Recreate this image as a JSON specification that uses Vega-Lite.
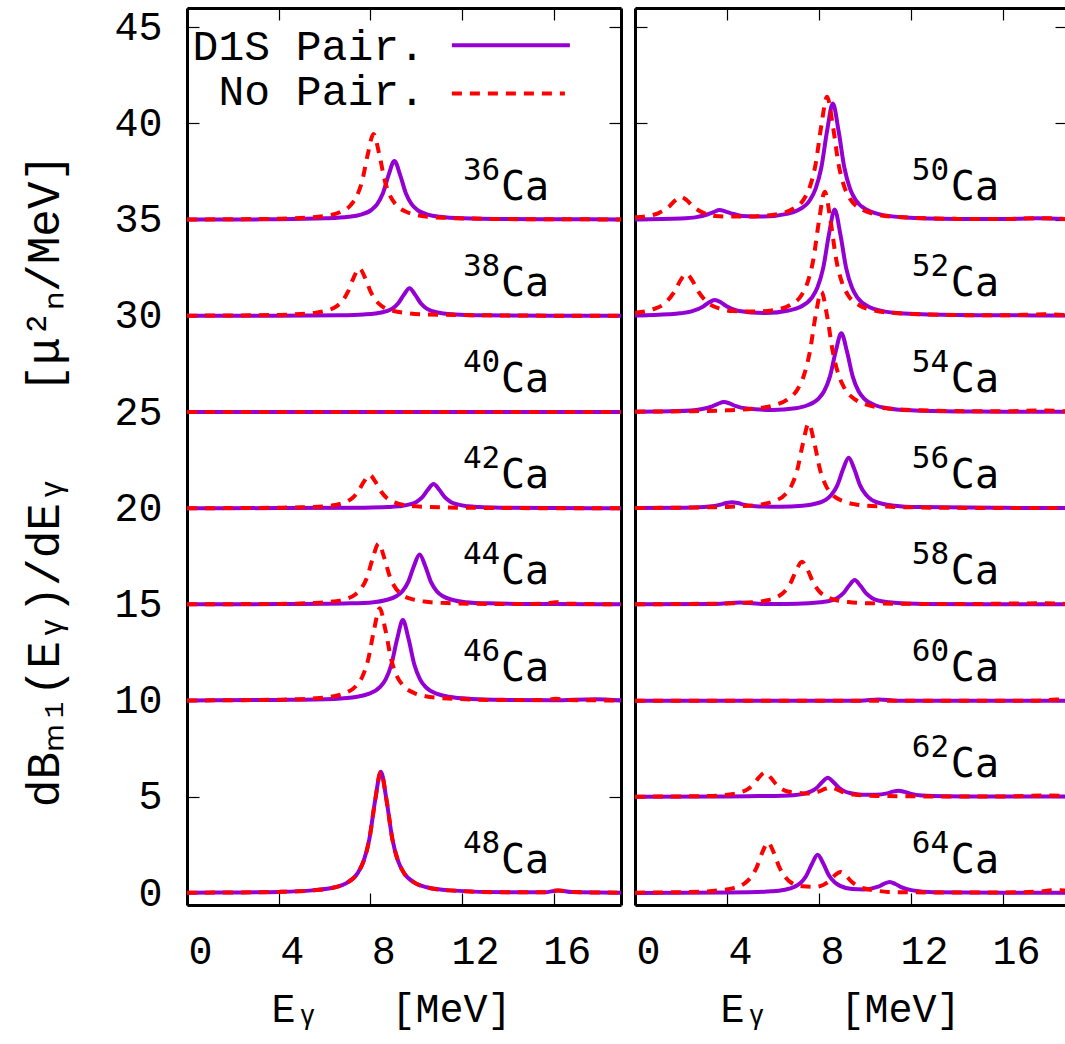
{
"$schema":"https://vega.github.io/schema/vega-lite/v6.json",
"padding":{"left":21,"top":7,"right":0,"bottom":6},
"background":"white",
"datasets":{
"labels":[
{"panel":"L","iso":"36","base":35},{"panel":"L","iso":"38","base":30},{"panel":"L","iso":"40","base":25},{"panel":"L","iso":"42","base":20},{"panel":"L","iso":"44","base":15},{"panel":"L","iso":"46","base":10},{"panel":"L","iso":"48","base":0},
{"panel":"R","iso":"50","base":35},{"panel":"R","iso":"52","base":30},{"panel":"R","iso":"54","base":25},{"panel":"R","iso":"56","base":20},{"panel":"R","iso":"58","base":15},{"panel":"R","iso":"60","base":10},{"panel":"R","iso":"62","base":5},{"panel":"R","iso":"64","base":0}
],
"legend":[
{"model":"D1S Pair."},{"model":"No Pair."}
],
"curves":[
{"panel":"L","nuc":"36","model":"NoPair","e":0,"y":35.01},{"panel":"L","nuc":"36","model":"NoPair","e":2,"y":35.02},{"panel":"L","nuc":"36","model":"NoPair","e":4,"y":35.05},{"panel":"L","nuc":"36","model":"NoPair","e":5.14,"y":35.1},{"panel":"L","nuc":"36","model":"NoPair","e":6.14,"y":35.21},{"panel":"L","nuc":"36","model":"NoPair","e":6.64,"y":35.37},{"panel":"L","nuc":"36","model":"NoPair","e":7.14,"y":35.75},{"panel":"L","nuc":"36","model":"NoPair","e":7.39,"y":36.18},{"panel":"L","nuc":"36","model":"NoPair","e":7.64,"y":36.99},{"panel":"L","nuc":"36","model":"NoPair","e":7.89,"y":38.4},{"panel":"L","nuc":"36","model":"NoPair","e":8.14,"y":39.45},{"panel":"L","nuc":"36","model":"NoPair","e":8.39,"y":38.4},{"panel":"L","nuc":"36","model":"NoPair","e":8.64,"y":36.99},{"panel":"L","nuc":"36","model":"NoPair","e":8.89,"y":36.18},{"panel":"L","nuc":"36","model":"NoPair","e":9.14,"y":35.75},{"panel":"L","nuc":"36","model":"NoPair","e":9.64,"y":35.37},{"panel":"L","nuc":"36","model":"NoPair","e":10.14,"y":35.21},{"panel":"L","nuc":"36","model":"NoPair","e":11.14,"y":35.1},{"panel":"L","nuc":"36","model":"NoPair","e":14,"y":35.03},{"panel":"L","nuc":"36","model":"NoPair","e":16,"y":35.02},{"panel":"L","nuc":"36","model":"NoPair","e":19,"y":35.01},
{"panel":"L","nuc":"36","model":"D1S","e":0,"y":35.01},{"panel":"L","nuc":"36","model":"D1S","e":2,"y":35.01},{"panel":"L","nuc":"36","model":"D1S","e":4,"y":35.02},{"panel":"L","nuc":"36","model":"D1S","e":6.05,"y":35.07},{"panel":"L","nuc":"36","model":"D1S","e":7.05,"y":35.15},{"panel":"L","nuc":"36","model":"D1S","e":7.55,"y":35.25},{"panel":"L","nuc":"36","model":"D1S","e":8.05,"y":35.51},{"panel":"L","nuc":"36","model":"D1S","e":8.3,"y":35.81},{"panel":"L","nuc":"36","model":"D1S","e":8.55,"y":36.37},{"panel":"L","nuc":"36","model":"D1S","e":8.8,"y":37.33},{"panel":"L","nuc":"36","model":"D1S","e":9.05,"y":38.05},{"panel":"L","nuc":"36","model":"D1S","e":9.3,"y":37.33},{"panel":"L","nuc":"36","model":"D1S","e":9.55,"y":36.37},{"panel":"L","nuc":"36","model":"D1S","e":9.8,"y":35.81},{"panel":"L","nuc":"36","model":"D1S","e":10.05,"y":35.51},{"panel":"L","nuc":"36","model":"D1S","e":10.55,"y":35.25},{"panel":"L","nuc":"36","model":"D1S","e":11.05,"y":35.15},{"panel":"L","nuc":"36","model":"D1S","e":12.05,"y":35.07},{"panel":"L","nuc":"36","model":"D1S","e":14,"y":35.03},{"panel":"L","nuc":"36","model":"D1S","e":16,"y":35.02},{"panel":"L","nuc":"36","model":"D1S","e":19,"y":35.01},
{"panel":"L","nuc":"38","model":"NoPair","e":0,"y":30.01},{"panel":"L","nuc":"38","model":"NoPair","e":2,"y":30.02},{"panel":"L","nuc":"38","model":"NoPair","e":4,"y":30.05},{"panel":"L","nuc":"38","model":"NoPair","e":4.52,"y":30.07},{"panel":"L","nuc":"38","model":"NoPair","e":5.52,"y":30.15},{"panel":"L","nuc":"38","model":"NoPair","e":6.02,"y":30.25},{"panel":"L","nuc":"38","model":"NoPair","e":6.52,"y":30.49},{"panel":"L","nuc":"38","model":"NoPair","e":6.77,"y":30.76},{"panel":"L","nuc":"38","model":"NoPair","e":7.02,"y":31.24},{"panel":"L","nuc":"38","model":"NoPair","e":7.27,"y":31.98},{"panel":"L","nuc":"38","model":"NoPair","e":7.52,"y":32.47},{"panel":"L","nuc":"38","model":"NoPair","e":7.77,"y":31.98},{"panel":"L","nuc":"38","model":"NoPair","e":8.02,"y":31.24},{"panel":"L","nuc":"38","model":"NoPair","e":8.27,"y":30.76},{"panel":"L","nuc":"38","model":"NoPair","e":8.52,"y":30.49},{"panel":"L","nuc":"38","model":"NoPair","e":9.02,"y":30.25},{"panel":"L","nuc":"38","model":"NoPair","e":9.52,"y":30.15},{"panel":"L","nuc":"38","model":"NoPair","e":10.52,"y":30.07},{"panel":"L","nuc":"38","model":"NoPair","e":14,"y":30.02},{"panel":"L","nuc":"38","model":"NoPair","e":16,"y":30.01},{"panel":"L","nuc":"38","model":"NoPair","e":19,"y":30.01},
{"panel":"L","nuc":"38","model":"D1S","e":0,"y":30.0},{"panel":"L","nuc":"38","model":"D1S","e":4,"y":30.01},{"panel":"L","nuc":"38","model":"D1S","e":6.71,"y":30.03},{"panel":"L","nuc":"38","model":"D1S","e":7.71,"y":30.07},{"panel":"L","nuc":"38","model":"D1S","e":8.21,"y":30.12},{"panel":"L","nuc":"38","model":"D1S","e":8.71,"y":30.24},{"panel":"L","nuc":"38","model":"D1S","e":8.96,"y":30.38},{"panel":"L","nuc":"38","model":"D1S","e":9.21,"y":30.64},{"panel":"L","nuc":"38","model":"D1S","e":9.46,"y":31.09},{"panel":"L","nuc":"38","model":"D1S","e":9.71,"y":31.43},{"panel":"L","nuc":"38","model":"D1S","e":9.96,"y":31.09},{"panel":"L","nuc":"38","model":"D1S","e":10.21,"y":30.64},{"panel":"L","nuc":"38","model":"D1S","e":10.46,"y":30.38},{"panel":"L","nuc":"38","model":"D1S","e":10.71,"y":30.24},{"panel":"L","nuc":"38","model":"D1S","e":11.21,"y":30.12},{"panel":"L","nuc":"38","model":"D1S","e":11.71,"y":30.07},{"panel":"L","nuc":"38","model":"D1S","e":12.71,"y":30.03},{"panel":"L","nuc":"38","model":"D1S","e":16,"y":30.01},{"panel":"L","nuc":"38","model":"D1S","e":19,"y":30.0},
{"panel":"L","nuc":"40","model":"NoPair","e":0,"y":25},{"panel":"L","nuc":"40","model":"NoPair","e":10,"y":25},{"panel":"L","nuc":"40","model":"NoPair","e":19,"y":25},
{"panel":"L","nuc":"40","model":"D1S","e":0,"y":25},{"panel":"L","nuc":"40","model":"D1S","e":10,"y":25},{"panel":"L","nuc":"40","model":"D1S","e":19,"y":25},
{"panel":"L","nuc":"42","model":"NoPair","e":0,"y":20.0},{"panel":"L","nuc":"42","model":"NoPair","e":4,"y":20.03},{"panel":"L","nuc":"42","model":"NoPair","e":4.97,"y":20.05},{"panel":"L","nuc":"42","model":"NoPair","e":5.97,"y":20.1},{"panel":"L","nuc":"42","model":"NoPair","e":6.47,"y":20.17},{"panel":"L","nuc":"42","model":"NoPair","e":6.97,"y":20.35},{"panel":"L","nuc":"42","model":"NoPair","e":7.22,"y":20.53},{"panel":"L","nuc":"42","model":"NoPair","e":7.47,"y":20.87},{"panel":"L","nuc":"42","model":"NoPair","e":7.72,"y":21.38},{"panel":"L","nuc":"42","model":"NoPair","e":7.97,"y":21.73},{"panel":"L","nuc":"42","model":"NoPair","e":8.22,"y":21.38},{"panel":"L","nuc":"42","model":"NoPair","e":8.47,"y":20.87},{"panel":"L","nuc":"42","model":"NoPair","e":8.72,"y":20.53},{"panel":"L","nuc":"42","model":"NoPair","e":8.97,"y":20.35},{"panel":"L","nuc":"42","model":"NoPair","e":9.47,"y":20.17},{"panel":"L","nuc":"42","model":"NoPair","e":9.97,"y":20.1},{"panel":"L","nuc":"42","model":"NoPair","e":10.97,"y":20.05},{"panel":"L","nuc":"42","model":"NoPair","e":14,"y":20.01},{"panel":"L","nuc":"42","model":"NoPair","e":19,"y":20.0},
{"panel":"L","nuc":"42","model":"D1S","e":0,"y":20.0},{"panel":"L","nuc":"42","model":"D1S","e":4,"y":20.01},{"panel":"L","nuc":"42","model":"D1S","e":7.76,"y":20.03},{"panel":"L","nuc":"42","model":"D1S","e":8.76,"y":20.06},{"panel":"L","nuc":"42","model":"D1S","e":9.26,"y":20.1},{"panel":"L","nuc":"42","model":"D1S","e":9.76,"y":20.21},{"panel":"L","nuc":"42","model":"D1S","e":10.01,"y":20.33},{"panel":"L","nuc":"42","model":"D1S","e":10.26,"y":20.56},{"panel":"L","nuc":"42","model":"D1S","e":10.51,"y":20.96},{"panel":"L","nuc":"42","model":"D1S","e":10.76,"y":21.26},{"panel":"L","nuc":"42","model":"D1S","e":11.01,"y":20.96},{"panel":"L","nuc":"42","model":"D1S","e":11.26,"y":20.56},{"panel":"L","nuc":"42","model":"D1S","e":11.51,"y":20.33},{"panel":"L","nuc":"42","model":"D1S","e":11.76,"y":20.21},{"panel":"L","nuc":"42","model":"D1S","e":12.26,"y":20.1},{"panel":"L","nuc":"42","model":"D1S","e":12.76,"y":20.06},{"panel":"L","nuc":"42","model":"D1S","e":13.76,"y":20.03},{"panel":"L","nuc":"42","model":"D1S","e":16,"y":20.01},{"panel":"L","nuc":"42","model":"D1S","e":19,"y":20.0},
{"panel":"L","nuc":"44","model":"NoPair","e":0,"y":15.01},{"panel":"L","nuc":"44","model":"NoPair","e":4,"y":15.03},{"panel":"L","nuc":"44","model":"NoPair","e":5.36,"y":15.07},{"panel":"L","nuc":"44","model":"NoPair","e":6.36,"y":15.15},{"panel":"L","nuc":"44","model":"NoPair","e":6.86,"y":15.26},{"panel":"L","nuc":"44","model":"NoPair","e":7.36,"y":15.53},{"panel":"L","nuc":"44","model":"NoPair","e":7.61,"y":15.84},{"panel":"L","nuc":"44","model":"NoPair","e":7.86,"y":16.42},{"panel":"L","nuc":"44","model":"NoPair","e":8.11,"y":17.42},{"panel":"L","nuc":"44","model":"NoPair","e":8.36,"y":18.17},{"panel":"L","nuc":"44","model":"NoPair","e":8.61,"y":17.42},{"panel":"L","nuc":"44","model":"NoPair","e":8.86,"y":16.42},{"panel":"L","nuc":"44","model":"NoPair","e":9.11,"y":15.84},{"panel":"L","nuc":"44","model":"NoPair","e":9.36,"y":15.53},{"panel":"L","nuc":"44","model":"NoPair","e":9.86,"y":15.26},{"panel":"L","nuc":"44","model":"NoPair","e":10.36,"y":15.15},{"panel":"L","nuc":"44","model":"NoPair","e":11.36,"y":15.07},{"panel":"L","nuc":"44","model":"NoPair","e":14,"y":15.02},{"panel":"L","nuc":"44","model":"NoPair","e":15.6,"y":15.04},{"panel":"L","nuc":"44","model":"NoPair","e":16.1,"y":15.12},{"panel":"L","nuc":"44","model":"NoPair","e":16.6,"y":15.04},{"panel":"L","nuc":"44","model":"NoPair","e":19,"y":15.01},
{"panel":"L","nuc":"44","model":"D1S","e":0,"y":15.01},{"panel":"L","nuc":"44","model":"D1S","e":4,"y":15.02},{"panel":"L","nuc":"44","model":"D1S","e":7.15,"y":15.06},{"panel":"L","nuc":"44","model":"D1S","e":8.15,"y":15.12},{"panel":"L","nuc":"44","model":"D1S","e":8.65,"y":15.22},{"panel":"L","nuc":"44","model":"D1S","e":9.15,"y":15.44},{"panel":"L","nuc":"44","model":"D1S","e":9.4,"y":15.69},{"panel":"L","nuc":"44","model":"D1S","e":9.65,"y":16.16},{"panel":"L","nuc":"44","model":"D1S","e":9.9,"y":16.99},{"panel":"L","nuc":"44","model":"D1S","e":10.15,"y":17.6},{"panel":"L","nuc":"44","model":"D1S","e":10.4,"y":16.99},{"panel":"L","nuc":"44","model":"D1S","e":10.65,"y":16.16},{"panel":"L","nuc":"44","model":"D1S","e":10.9,"y":15.69},{"panel":"L","nuc":"44","model":"D1S","e":11.15,"y":15.44},{"panel":"L","nuc":"44","model":"D1S","e":11.65,"y":15.22},{"panel":"L","nuc":"44","model":"D1S","e":12.15,"y":15.12},{"panel":"L","nuc":"44","model":"D1S","e":13.15,"y":15.06},{"panel":"L","nuc":"44","model":"D1S","e":16,"y":15.02},{"panel":"L","nuc":"44","model":"D1S","e":19,"y":15.01},
{"panel":"L","nuc":"46","model":"NoPair","e":0,"y":10.01},{"panel":"L","nuc":"46","model":"NoPair","e":4,"y":10.05},{"panel":"L","nuc":"46","model":"NoPair","e":5.41,"y":10.11},{"panel":"L","nuc":"46","model":"NoPair","e":6.41,"y":10.23},{"panel":"L","nuc":"46","model":"NoPair","e":6.91,"y":10.4},{"panel":"L","nuc":"46","model":"NoPair","e":7.41,"y":10.81},{"panel":"L","nuc":"46","model":"NoPair","e":7.66,"y":11.27},{"panel":"L","nuc":"46","model":"NoPair","e":7.91,"y":12.15},{"panel":"L","nuc":"46","model":"NoPair","e":8.16,"y":13.67},{"panel":"L","nuc":"46","model":"NoPair","e":8.41,"y":14.8},{"panel":"L","nuc":"46","model":"NoPair","e":8.66,"y":13.67},{"panel":"L","nuc":"46","model":"NoPair","e":8.91,"y":12.15},{"panel":"L","nuc":"46","model":"NoPair","e":9.16,"y":11.27},{"panel":"L","nuc":"46","model":"NoPair","e":9.41,"y":10.81},{"panel":"L","nuc":"46","model":"NoPair","e":9.91,"y":10.4},{"panel":"L","nuc":"46","model":"NoPair","e":10.41,"y":10.23},{"panel":"L","nuc":"46","model":"NoPair","e":11.41,"y":10.11},{"panel":"L","nuc":"46","model":"NoPair","e":14,"y":10.03},{"panel":"L","nuc":"46","model":"NoPair","e":15.6,"y":10.03},{"panel":"L","nuc":"46","model":"NoPair","e":16.1,"y":10.1},{"panel":"L","nuc":"46","model":"NoPair","e":16.6,"y":10.03},{"panel":"L","nuc":"46","model":"NoPair","e":19,"y":10.01},
{"panel":"L","nuc":"46","model":"D1S","e":0,"y":10.01},{"panel":"L","nuc":"46","model":"D1S","e":4,"y":10.04},{"panel":"L","nuc":"46","model":"D1S","e":6.42,"y":10.09},{"panel":"L","nuc":"46","model":"D1S","e":7.42,"y":10.2},{"panel":"L","nuc":"46","model":"D1S","e":7.92,"y":10.35},{"panel":"L","nuc":"46","model":"D1S","e":8.42,"y":10.7},{"panel":"L","nuc":"46","model":"D1S","e":8.67,"y":11.11},{"panel":"L","nuc":"46","model":"D1S","e":8.92,"y":11.88},{"panel":"L","nuc":"46","model":"D1S","e":9.17,"y":13.2},{"panel":"L","nuc":"46","model":"D1S","e":9.42,"y":14.19},{"panel":"L","nuc":"46","model":"D1S","e":9.67,"y":13.2},{"panel":"L","nuc":"46","model":"D1S","e":9.92,"y":11.88},{"panel":"L","nuc":"46","model":"D1S","e":10.17,"y":11.11},{"panel":"L","nuc":"46","model":"D1S","e":10.42,"y":10.7},{"panel":"L","nuc":"46","model":"D1S","e":10.92,"y":10.35},{"panel":"L","nuc":"46","model":"D1S","e":11.42,"y":10.2},{"panel":"L","nuc":"46","model":"D1S","e":12.42,"y":10.09},{"panel":"L","nuc":"46","model":"D1S","e":14,"y":10.04},{"panel":"L","nuc":"46","model":"D1S","e":16,"y":10.02},{"panel":"L","nuc":"46","model":"D1S","e":17.8,"y":10.08},{"panel":"L","nuc":"46","model":"D1S","e":19,"y":10.01},
{"panel":"L","nuc":"48","model":"NoPair","e":0,"y":0.02},{"panel":"L","nuc":"48","model":"NoPair","e":2,"y":0.03},{"panel":"L","nuc":"48","model":"NoPair","e":4,"y":0.06},{"panel":"L","nuc":"48","model":"NoPair","e":5.46,"y":0.14},{"panel":"L","nuc":"48","model":"NoPair","e":6.46,"y":0.3},{"panel":"L","nuc":"48","model":"NoPair","e":6.96,"y":0.52},{"panel":"L","nuc":"48","model":"NoPair","e":7.46,"y":1.06},{"panel":"L","nuc":"48","model":"NoPair","e":7.71,"y":1.67},{"panel":"L","nuc":"48","model":"NoPair","e":7.96,"y":2.82},{"panel":"L","nuc":"48","model":"NoPair","e":8.21,"y":4.81},{"panel":"L","nuc":"48","model":"NoPair","e":8.46,"y":6.3},{"panel":"L","nuc":"48","model":"NoPair","e":8.71,"y":4.81},{"panel":"L","nuc":"48","model":"NoPair","e":8.96,"y":2.82},{"panel":"L","nuc":"48","model":"NoPair","e":9.21,"y":1.67},{"panel":"L","nuc":"48","model":"NoPair","e":9.46,"y":1.06},{"panel":"L","nuc":"48","model":"NoPair","e":9.96,"y":0.52},{"panel":"L","nuc":"48","model":"NoPair","e":10.46,"y":0.3},{"panel":"L","nuc":"48","model":"NoPair","e":11.46,"y":0.14},{"panel":"L","nuc":"48","model":"NoPair","e":14,"y":0.04},{"panel":"L","nuc":"48","model":"NoPair","e":15.6,"y":0.04},{"panel":"L","nuc":"48","model":"NoPair","e":16.2,"y":0.14},{"panel":"L","nuc":"48","model":"NoPair","e":16.8,"y":0.05},{"panel":"L","nuc":"48","model":"NoPair","e":19,"y":0.02},
{"panel":"L","nuc":"48","model":"D1S","e":0,"y":0.02},{"panel":"L","nuc":"48","model":"D1S","e":2,"y":0.03},{"panel":"L","nuc":"48","model":"D1S","e":4,"y":0.06},{"panel":"L","nuc":"48","model":"D1S","e":5.46,"y":0.14},{"panel":"L","nuc":"48","model":"D1S","e":6.46,"y":0.3},{"panel":"L","nuc":"48","model":"D1S","e":6.96,"y":0.52},{"panel":"L","nuc":"48","model":"D1S","e":7.46,"y":1.06},{"panel":"L","nuc":"48","model":"D1S","e":7.71,"y":1.67},{"panel":"L","nuc":"48","model":"D1S","e":7.96,"y":2.82},{"panel":"L","nuc":"48","model":"D1S","e":8.21,"y":4.81},{"panel":"L","nuc":"48","model":"D1S","e":8.46,"y":6.3},{"panel":"L","nuc":"48","model":"D1S","e":8.71,"y":4.81},{"panel":"L","nuc":"48","model":"D1S","e":8.96,"y":2.82},{"panel":"L","nuc":"48","model":"D1S","e":9.21,"y":1.67},{"panel":"L","nuc":"48","model":"D1S","e":9.46,"y":1.06},{"panel":"L","nuc":"48","model":"D1S","e":9.96,"y":0.52},{"panel":"L","nuc":"48","model":"D1S","e":10.46,"y":0.3},{"panel":"L","nuc":"48","model":"D1S","e":11.46,"y":0.14},{"panel":"L","nuc":"48","model":"D1S","e":14,"y":0.04},{"panel":"L","nuc":"48","model":"D1S","e":15.6,"y":0.04},{"panel":"L","nuc":"48","model":"D1S","e":16.2,"y":0.14},{"panel":"L","nuc":"48","model":"D1S","e":16.8,"y":0.05},{"panel":"L","nuc":"48","model":"D1S","e":19,"y":0.02},
{"panel":"R","nuc":"50","model":"NoPair","e":0,"y":35.12},{"panel":"R","nuc":"50","model":"NoPair","e":0.5,"y":35.18},{"panel":"R","nuc":"50","model":"NoPair","e":1,"y":35.33},{"panel":"R","nuc":"50","model":"NoPair","e":1.5,"y":35.7},{"panel":"R","nuc":"50","model":"NoPair","e":1.75,"y":36.0},{"panel":"R","nuc":"50","model":"NoPair","e":2,"y":36.18},{"panel":"R","nuc":"50","model":"NoPair","e":2.25,"y":36.01},{"panel":"R","nuc":"50","model":"NoPair","e":2.5,"y":35.71},{"panel":"R","nuc":"50","model":"NoPair","e":3,"y":35.34},{"panel":"R","nuc":"50","model":"NoPair","e":3.5,"y":35.19},{"panel":"R","nuc":"50","model":"NoPair","e":4,"y":35.16},{"panel":"R","nuc":"50","model":"NoPair","e":5,"y":35.16},{"panel":"R","nuc":"50","model":"NoPair","e":5.35,"y":35.18},{"panel":"R","nuc":"50","model":"NoPair","e":6.35,"y":35.33},{"panel":"R","nuc":"50","model":"NoPair","e":6.85,"y":35.55},{"panel":"R","nuc":"50","model":"NoPair","e":7.35,"y":36.08},{"panel":"R","nuc":"50","model":"NoPair","e":7.6,"y":36.7},{"panel":"R","nuc":"50","model":"NoPair","e":7.85,"y":37.87},{"panel":"R","nuc":"50","model":"NoPair","e":8.1,"y":39.89},{"panel":"R","nuc":"50","model":"NoPair","e":8.35,"y":41.39},{"panel":"R","nuc":"50","model":"NoPair","e":8.6,"y":39.89},{"panel":"R","nuc":"50","model":"NoPair","e":8.85,"y":37.87},{"panel":"R","nuc":"50","model":"NoPair","e":9.1,"y":36.7},{"panel":"R","nuc":"50","model":"NoPair","e":9.35,"y":36.08},{"panel":"R","nuc":"50","model":"NoPair","e":9.85,"y":35.54},{"panel":"R","nuc":"50","model":"NoPair","e":10.35,"y":35.31},{"panel":"R","nuc":"50","model":"NoPair","e":11.35,"y":35.14},{"panel":"R","nuc":"50","model":"NoPair","e":14,"y":35.04},{"panel":"R","nuc":"50","model":"NoPair","e":16,"y":35.03},{"panel":"R","nuc":"50","model":"NoPair","e":17.5,"y":35.08},{"panel":"R","nuc":"50","model":"NoPair","e":19,"y":35.02},
{"panel":"R","nuc":"50","model":"D1S","e":0,"y":35.01},{"panel":"R","nuc":"50","model":"D1S","e":2,"y":35.06},{"panel":"R","nuc":"50","model":"D1S","e":2.67,"y":35.13},{"panel":"R","nuc":"50","model":"D1S","e":3.17,"y":35.28},{"panel":"R","nuc":"50","model":"D1S","e":3.42,"y":35.39},{"panel":"R","nuc":"50","model":"D1S","e":3.67,"y":35.5},{"panel":"R","nuc":"50","model":"D1S","e":3.92,"y":35.43},{"panel":"R","nuc":"50","model":"D1S","e":4.17,"y":35.33},{"panel":"R","nuc":"50","model":"D1S","e":4.67,"y":35.19},{"panel":"R","nuc":"50","model":"D1S","e":5.6,"y":35.16},{"panel":"R","nuc":"50","model":"D1S","e":6.6,"y":35.3},{"panel":"R","nuc":"50","model":"D1S","e":7.1,"y":35.5},{"panel":"R","nuc":"50","model":"D1S","e":7.6,"y":36.01},{"panel":"R","nuc":"50","model":"D1S","e":7.85,"y":36.6},{"panel":"R","nuc":"50","model":"D1S","e":8.1,"y":37.71},{"panel":"R","nuc":"50","model":"D1S","e":8.35,"y":39.61},{"panel":"R","nuc":"50","model":"D1S","e":8.6,"y":41.04},{"panel":"R","nuc":"50","model":"D1S","e":8.85,"y":39.61},{"panel":"R","nuc":"50","model":"D1S","e":9.1,"y":37.71},{"panel":"R","nuc":"50","model":"D1S","e":9.35,"y":36.6},{"panel":"R","nuc":"50","model":"D1S","e":9.6,"y":36.01},{"panel":"R","nuc":"50","model":"D1S","e":10.1,"y":35.5},{"panel":"R","nuc":"50","model":"D1S","e":10.6,"y":35.29},{"panel":"R","nuc":"50","model":"D1S","e":11.6,"y":35.13},{"panel":"R","nuc":"50","model":"D1S","e":14,"y":35.04},{"panel":"R","nuc":"50","model":"D1S","e":16,"y":35.03},{"panel":"R","nuc":"50","model":"D1S","e":17.5,"y":35.07},{"panel":"R","nuc":"50","model":"D1S","e":19,"y":35.02},
{"panel":"R","nuc":"52","model":"NoPair","e":0,"y":30.16},{"panel":"R","nuc":"52","model":"NoPair","e":0.73,"y":30.32},{"panel":"R","nuc":"52","model":"NoPair","e":1.23,"y":30.59},{"panel":"R","nuc":"52","model":"NoPair","e":1.73,"y":31.29},{"panel":"R","nuc":"52","model":"NoPair","e":1.98,"y":31.85},{"panel":"R","nuc":"52","model":"NoPair","e":2.23,"y":32.18},{"panel":"R","nuc":"52","model":"NoPair","e":2.48,"y":31.86},{"panel":"R","nuc":"52","model":"NoPair","e":2.73,"y":31.31},{"panel":"R","nuc":"52","model":"NoPair","e":3.23,"y":30.62},{"panel":"R","nuc":"52","model":"NoPair","e":3.73,"y":30.36},{"panel":"R","nuc":"52","model":"NoPair","e":4.23,"y":30.25},{"panel":"R","nuc":"52","model":"NoPair","e":5.25,"y":30.22},{"panel":"R","nuc":"52","model":"NoPair","e":6.25,"y":30.35},{"panel":"R","nuc":"52","model":"NoPair","e":6.75,"y":30.57},{"panel":"R","nuc":"52","model":"NoPair","e":7.25,"y":31.1},{"panel":"R","nuc":"52","model":"NoPair","e":7.5,"y":31.73},{"panel":"R","nuc":"52","model":"NoPair","e":7.75,"y":32.91},{"panel":"R","nuc":"52","model":"NoPair","e":8.0,"y":34.95},{"panel":"R","nuc":"52","model":"NoPair","e":8.25,"y":36.45},{"panel":"R","nuc":"52","model":"NoPair","e":8.5,"y":34.95},{"panel":"R","nuc":"52","model":"NoPair","e":8.75,"y":32.91},{"panel":"R","nuc":"52","model":"NoPair","e":9.0,"y":31.73},{"panel":"R","nuc":"52","model":"NoPair","e":9.25,"y":31.1},{"panel":"R","nuc":"52","model":"NoPair","e":9.75,"y":30.55},{"panel":"R","nuc":"52","model":"NoPair","e":10.25,"y":30.32},{"panel":"R","nuc":"52","model":"NoPair","e":11.25,"y":30.15},{"panel":"R","nuc":"52","model":"NoPair","e":14,"y":30.04},{"panel":"R","nuc":"52","model":"NoPair","e":16,"y":30.03},{"panel":"R","nuc":"52","model":"NoPair","e":17.8,"y":30.08},{"panel":"R","nuc":"52","model":"NoPair","e":19,"y":30.02},
{"panel":"R","nuc":"52","model":"D1S","e":0,"y":30.02},{"panel":"R","nuc":"52","model":"D1S","e":1.46,"y":30.08},{"panel":"R","nuc":"52","model":"D1S","e":1.96,"y":30.13},{"panel":"R","nuc":"52","model":"D1S","e":2.46,"y":30.23},{"panel":"R","nuc":"52","model":"D1S","e":2.96,"y":30.48},{"panel":"R","nuc":"52","model":"D1S","e":3.21,"y":30.69},{"panel":"R","nuc":"52","model":"D1S","e":3.46,"y":30.82},{"panel":"R","nuc":"52","model":"D1S","e":3.71,"y":30.72},{"panel":"R","nuc":"52","model":"D1S","e":3.96,"y":30.51},{"panel":"R","nuc":"52","model":"D1S","e":4.46,"y":30.27},{"panel":"R","nuc":"52","model":"D1S","e":5.68,"y":30.15},{"panel":"R","nuc":"52","model":"D1S","e":6.68,"y":30.28},{"panel":"R","nuc":"52","model":"D1S","e":7.18,"y":30.46},{"panel":"R","nuc":"52","model":"D1S","e":7.68,"y":30.93},{"panel":"R","nuc":"52","model":"D1S","e":7.93,"y":31.47},{"panel":"R","nuc":"52","model":"D1S","e":8.18,"y":32.48},{"panel":"R","nuc":"52","model":"D1S","e":8.43,"y":34.22},{"panel":"R","nuc":"52","model":"D1S","e":8.68,"y":35.53},{"panel":"R","nuc":"52","model":"D1S","e":8.93,"y":34.22},{"panel":"R","nuc":"52","model":"D1S","e":9.18,"y":32.48},{"panel":"R","nuc":"52","model":"D1S","e":9.43,"y":31.47},{"panel":"R","nuc":"52","model":"D1S","e":9.68,"y":30.93},{"panel":"R","nuc":"52","model":"D1S","e":10.18,"y":30.46},{"panel":"R","nuc":"52","model":"D1S","e":10.68,"y":30.27},{"panel":"R","nuc":"52","model":"D1S","e":11.68,"y":30.12},{"panel":"R","nuc":"52","model":"D1S","e":14,"y":30.04},{"panel":"R","nuc":"52","model":"D1S","e":16,"y":30.03},{"panel":"R","nuc":"52","model":"D1S","e":19,"y":30.02},
{"panel":"R","nuc":"54","model":"NoPair","e":0,"y":25.02},{"panel":"R","nuc":"54","model":"NoPair","e":2,"y":25.04},{"panel":"R","nuc":"54","model":"NoPair","e":4,"y":25.09},{"panel":"R","nuc":"54","model":"NoPair","e":5.1,"y":25.17},{"panel":"R","nuc":"54","model":"NoPair","e":6.1,"y":25.37},{"panel":"R","nuc":"54","model":"NoPair","e":6.6,"y":25.63},{"panel":"R","nuc":"54","model":"NoPair","e":7.1,"y":26.25},{"panel":"R","nuc":"54","model":"NoPair","e":7.35,"y":26.93},{"panel":"R","nuc":"54","model":"NoPair","e":7.6,"y":28.13},{"panel":"R","nuc":"54","model":"NoPair","e":7.85,"y":30.0},{"panel":"R","nuc":"54","model":"NoPair","e":8.1,"y":31.25},{"panel":"R","nuc":"54","model":"NoPair","e":8.35,"y":30.0},{"panel":"R","nuc":"54","model":"NoPair","e":8.6,"y":28.13},{"panel":"R","nuc":"54","model":"NoPair","e":8.85,"y":26.93},{"panel":"R","nuc":"54","model":"NoPair","e":9.1,"y":26.25},{"panel":"R","nuc":"54","model":"NoPair","e":9.6,"y":25.63},{"panel":"R","nuc":"54","model":"NoPair","e":10.1,"y":25.37},{"panel":"R","nuc":"54","model":"NoPair","e":11.1,"y":25.17},{"panel":"R","nuc":"54","model":"NoPair","e":14,"y":25.05},{"panel":"R","nuc":"54","model":"NoPair","e":16,"y":25.04},{"panel":"R","nuc":"54","model":"NoPair","e":17.5,"y":25.08},{"panel":"R","nuc":"54","model":"NoPair","e":19,"y":25.02},
{"panel":"R","nuc":"54","model":"D1S","e":0,"y":25.01},{"panel":"R","nuc":"54","model":"D1S","e":1.86,"y":25.05},{"panel":"R","nuc":"54","model":"D1S","e":2.86,"y":25.15},{"panel":"R","nuc":"54","model":"D1S","e":3.36,"y":25.3},{"panel":"R","nuc":"54","model":"D1S","e":3.61,"y":25.43},{"panel":"R","nuc":"54","model":"D1S","e":3.86,"y":25.52},{"panel":"R","nuc":"54","model":"D1S","e":4.11,"y":25.45},{"panel":"R","nuc":"54","model":"D1S","e":4.36,"y":25.32},{"panel":"R","nuc":"54","model":"D1S","e":4.86,"y":25.18},{"panel":"R","nuc":"54","model":"D1S","e":5.97,"y":25.11},{"panel":"R","nuc":"54","model":"D1S","e":6.97,"y":25.2},{"panel":"R","nuc":"54","model":"D1S","e":7.47,"y":25.34},{"panel":"R","nuc":"54","model":"D1S","e":7.97,"y":25.69},{"panel":"R","nuc":"54","model":"D1S","e":8.22,"y":26.08},{"panel":"R","nuc":"54","model":"D1S","e":8.47,"y":26.83},{"panel":"R","nuc":"54","model":"D1S","e":8.72,"y":28.12},{"panel":"R","nuc":"54","model":"D1S","e":8.97,"y":29.09},{"panel":"R","nuc":"54","model":"D1S","e":9.22,"y":28.12},{"panel":"R","nuc":"54","model":"D1S","e":9.47,"y":26.83},{"panel":"R","nuc":"54","model":"D1S","e":9.72,"y":26.08},{"panel":"R","nuc":"54","model":"D1S","e":9.97,"y":25.69},{"panel":"R","nuc":"54","model":"D1S","e":10.47,"y":25.34},{"panel":"R","nuc":"54","model":"D1S","e":10.97,"y":25.2},{"panel":"R","nuc":"54","model":"D1S","e":11.97,"y":25.09},{"panel":"R","nuc":"54","model":"D1S","e":14,"y":25.03},{"panel":"R","nuc":"54","model":"D1S","e":16,"y":25.02},{"panel":"R","nuc":"54","model":"D1S","e":19,"y":25.01},
{"panel":"R","nuc":"56","model":"NoPair","e":0,"y":20.01},{"panel":"R","nuc":"56","model":"NoPair","e":2,"y":20.03},{"panel":"R","nuc":"56","model":"NoPair","e":4,"y":20.07},{"panel":"R","nuc":"56","model":"NoPair","e":4.55,"y":20.1},{"panel":"R","nuc":"56","model":"NoPair","e":5.55,"y":20.21},{"panel":"R","nuc":"56","model":"NoPair","e":6.05,"y":20.37},{"panel":"R","nuc":"56","model":"NoPair","e":6.55,"y":20.74},{"panel":"R","nuc":"56","model":"NoPair","e":6.8,"y":21.17},{"panel":"R","nuc":"56","model":"NoPair","e":7.05,"y":21.98},{"panel":"R","nuc":"56","model":"NoPair","e":7.3,"y":23.37},{"panel":"R","nuc":"56","model":"NoPair","e":7.55,"y":24.41},{"panel":"R","nuc":"56","model":"NoPair","e":7.8,"y":23.37},{"panel":"R","nuc":"56","model":"NoPair","e":8.05,"y":21.98},{"panel":"R","nuc":"56","model":"NoPair","e":8.3,"y":21.17},{"panel":"R","nuc":"56","model":"NoPair","e":8.55,"y":20.74},{"panel":"R","nuc":"56","model":"NoPair","e":9.05,"y":20.37},{"panel":"R","nuc":"56","model":"NoPair","e":9.55,"y":20.21},{"panel":"R","nuc":"56","model":"NoPair","e":10.55,"y":20.1},{"panel":"R","nuc":"56","model":"NoPair","e":14,"y":20.02},{"panel":"R","nuc":"56","model":"NoPair","e":19,"y":20.01},
{"panel":"R","nuc":"56","model":"D1S","e":0,"y":20.01},{"panel":"R","nuc":"56","model":"D1S","e":2.22,"y":20.03},{"panel":"R","nuc":"56","model":"D1S","e":3.22,"y":20.09},{"panel":"R","nuc":"56","model":"D1S","e":3.72,"y":20.19},{"panel":"R","nuc":"56","model":"D1S","e":3.97,"y":20.27},{"panel":"R","nuc":"56","model":"D1S","e":4.22,"y":20.31},{"panel":"R","nuc":"56","model":"D1S","e":4.47,"y":20.27},{"panel":"R","nuc":"56","model":"D1S","e":4.72,"y":20.19},{"panel":"R","nuc":"56","model":"D1S","e":5.22,"y":20.11},{"panel":"R","nuc":"56","model":"D1S","e":6.29,"y":20.08},{"panel":"R","nuc":"56","model":"D1S","e":7.29,"y":20.13},{"panel":"R","nuc":"56","model":"D1S","e":7.79,"y":20.22},{"panel":"R","nuc":"56","model":"D1S","e":8.29,"y":20.44},{"panel":"R","nuc":"56","model":"D1S","e":8.54,"y":20.7},{"panel":"R","nuc":"56","model":"D1S","e":8.79,"y":21.18},{"panel":"R","nuc":"56","model":"D1S","e":9.04,"y":22.01},{"panel":"R","nuc":"56","model":"D1S","e":9.29,"y":22.63},{"panel":"R","nuc":"56","model":"D1S","e":9.54,"y":22.01},{"panel":"R","nuc":"56","model":"D1S","e":9.79,"y":21.18},{"panel":"R","nuc":"56","model":"D1S","e":10.04,"y":20.7},{"panel":"R","nuc":"56","model":"D1S","e":10.29,"y":20.44},{"panel":"R","nuc":"56","model":"D1S","e":10.79,"y":20.22},{"panel":"R","nuc":"56","model":"D1S","e":11.29,"y":20.13},{"panel":"R","nuc":"56","model":"D1S","e":12.29,"y":20.06},{"panel":"R","nuc":"56","model":"D1S","e":16,"y":20.02},{"panel":"R","nuc":"56","model":"D1S","e":19,"y":20.01},
{"panel":"R","nuc":"58","model":"NoPair","e":0,"y":15.01},{"panel":"R","nuc":"58","model":"NoPair","e":4,"y":15.05},{"panel":"R","nuc":"58","model":"NoPair","e":4.26,"y":15.06},{"panel":"R","nuc":"58","model":"NoPair","e":5.26,"y":15.13},{"panel":"R","nuc":"58","model":"NoPair","e":5.76,"y":15.22},{"panel":"R","nuc":"58","model":"NoPair","e":6.26,"y":15.44},{"panel":"R","nuc":"58","model":"NoPair","e":6.51,"y":15.68},{"panel":"R","nuc":"58","model":"NoPair","e":6.76,"y":16.11},{"panel":"R","nuc":"58","model":"NoPair","e":7.01,"y":16.78},{"panel":"R","nuc":"58","model":"NoPair","e":7.26,"y":17.22},{"panel":"R","nuc":"58","model":"NoPair","e":7.51,"y":16.78},{"panel":"R","nuc":"58","model":"NoPair","e":7.76,"y":16.11},{"panel":"R","nuc":"58","model":"NoPair","e":8.01,"y":15.68},{"panel":"R","nuc":"58","model":"NoPair","e":8.26,"y":15.44},{"panel":"R","nuc":"58","model":"NoPair","e":8.76,"y":15.22},{"panel":"R","nuc":"58","model":"NoPair","e":9.26,"y":15.13},{"panel":"R","nuc":"58","model":"NoPair","e":10.26,"y":15.06},{"panel":"R","nuc":"58","model":"NoPair","e":14,"y":15.02},{"panel":"R","nuc":"58","model":"NoPair","e":17.8,"y":15.06},{"panel":"R","nuc":"58","model":"NoPair","e":19,"y":15.01},
{"panel":"R","nuc":"58","model":"D1S","e":0,"y":15.01},{"panel":"R","nuc":"58","model":"D1S","e":3.5,"y":15.03},{"panel":"R","nuc":"58","model":"D1S","e":4.57,"y":15.1},{"panel":"R","nuc":"58","model":"D1S","e":5.6,"y":15.03},{"panel":"R","nuc":"58","model":"D1S","e":6.55,"y":15.03},{"panel":"R","nuc":"58","model":"D1S","e":7.55,"y":15.06},{"panel":"R","nuc":"58","model":"D1S","e":8.05,"y":15.11},{"panel":"R","nuc":"58","model":"D1S","e":8.55,"y":15.21},{"panel":"R","nuc":"58","model":"D1S","e":8.8,"y":15.34},{"panel":"R","nuc":"58","model":"D1S","e":9.05,"y":15.57},{"panel":"R","nuc":"58","model":"D1S","e":9.3,"y":15.97},{"panel":"R","nuc":"58","model":"D1S","e":9.55,"y":16.27},{"panel":"R","nuc":"58","model":"D1S","e":9.8,"y":15.97},{"panel":"R","nuc":"58","model":"D1S","e":10.05,"y":15.57},{"panel":"R","nuc":"58","model":"D1S","e":10.3,"y":15.34},{"panel":"R","nuc":"58","model":"D1S","e":10.55,"y":15.21},{"panel":"R","nuc":"58","model":"D1S","e":11.05,"y":15.11},{"panel":"R","nuc":"58","model":"D1S","e":11.55,"y":15.06},{"panel":"R","nuc":"58","model":"D1S","e":12.55,"y":15.03},{"panel":"R","nuc":"58","model":"D1S","e":16,"y":15.01},{"panel":"R","nuc":"58","model":"D1S","e":19,"y":15.01},
{"panel":"R","nuc":"60","model":"NoPair","e":0,"y":10},{"panel":"R","nuc":"60","model":"NoPair","e":10,"y":10},{"panel":"R","nuc":"60","model":"NoPair","e":17.5,"y":10},{"panel":"R","nuc":"60","model":"NoPair","e":18.3,"y":10.06},{"panel":"R","nuc":"60","model":"NoPair","e":19,"y":10.02},
{"panel":"R","nuc":"60","model":"D1S","e":0,"y":10},{"panel":"R","nuc":"60","model":"D1S","e":9.8,"y":10},{"panel":"R","nuc":"60","model":"D1S","e":10.6,"y":10.06},{"panel":"R","nuc":"60","model":"D1S","e":11.4,"y":10},{"panel":"R","nuc":"60","model":"D1S","e":19,"y":10},
{"panel":"R","nuc":"62","model":"NoPair","e":0,"y":5.01},{"panel":"R","nuc":"62","model":"NoPair","e":2.64,"y":5.03},{"panel":"R","nuc":"62","model":"NoPair","e":3.64,"y":5.07},{"panel":"R","nuc":"62","model":"NoPair","e":4.14,"y":5.13},{"panel":"R","nuc":"62","model":"NoPair","e":4.64,"y":5.26},{"panel":"R","nuc":"62","model":"NoPair","e":4.89,"y":5.39},{"panel":"R","nuc":"62","model":"NoPair","e":5.14,"y":5.64},{"panel":"R","nuc":"62","model":"NoPair","e":5.39,"y":6.01},{"panel":"R","nuc":"62","model":"NoPair","e":5.64,"y":6.26},{"panel":"R","nuc":"62","model":"NoPair","e":5.89,"y":6.01},{"panel":"R","nuc":"62","model":"NoPair","e":6.14,"y":5.65},{"panel":"R","nuc":"62","model":"NoPair","e":6.39,"y":5.4},{"panel":"R","nuc":"62","model":"NoPair","e":6.64,"y":5.28},{"panel":"R","nuc":"62","model":"NoPair","e":7.14,"y":5.21},{"panel":"R","nuc":"62","model":"NoPair","e":7.5,"y":5.17},{"panel":"R","nuc":"62","model":"NoPair","e":8.0,"y":5.28},{"panel":"R","nuc":"62","model":"NoPair","e":8.25,"y":5.41},{"panel":"R","nuc":"62","model":"NoPair","e":8.5,"y":5.49},{"panel":"R","nuc":"62","model":"NoPair","e":8.75,"y":5.4},{"panel":"R","nuc":"62","model":"NoPair","e":9.0,"y":5.26},{"panel":"R","nuc":"62","model":"NoPair","e":9.5,"y":5.12},{"panel":"R","nuc":"62","model":"NoPair","e":10.5,"y":5.05},{"panel":"R","nuc":"62","model":"NoPair","e":12,"y":5.03},{"panel":"R","nuc":"62","model":"NoPair","e":14,"y":5.02},{"panel":"R","nuc":"62","model":"NoPair","e":16,"y":5.02},{"panel":"R","nuc":"62","model":"NoPair","e":18,"y":5.07},{"panel":"R","nuc":"62","model":"NoPair","e":19,"y":5.03},
{"panel":"R","nuc":"62","model":"D1S","e":0,"y":5.01},{"panel":"R","nuc":"62","model":"D1S","e":4,"y":5.02},{"panel":"R","nuc":"62","model":"D1S","e":5.38,"y":5.04},{"panel":"R","nuc":"62","model":"D1S","e":6.38,"y":5.06},{"panel":"R","nuc":"62","model":"D1S","e":6.88,"y":5.09},{"panel":"R","nuc":"62","model":"D1S","e":7.38,"y":5.17},{"panel":"R","nuc":"62","model":"D1S","e":7.63,"y":5.27},{"panel":"R","nuc":"62","model":"D1S","e":7.88,"y":5.45},{"panel":"R","nuc":"62","model":"D1S","e":8.13,"y":5.76},{"panel":"R","nuc":"62","model":"D1S","e":8.38,"y":6.0},{"panel":"R","nuc":"62","model":"D1S","e":8.63,"y":5.76},{"panel":"R","nuc":"62","model":"D1S","e":8.88,"y":5.46},{"panel":"R","nuc":"62","model":"D1S","e":9.13,"y":5.28},{"panel":"R","nuc":"62","model":"D1S","e":9.38,"y":5.19},{"panel":"R","nuc":"62","model":"D1S","e":9.88,"y":5.11},{"panel":"R","nuc":"62","model":"D1S","e":10.46,"y":5.11},{"panel":"R","nuc":"62","model":"D1S","e":10.96,"y":5.18},{"panel":"R","nuc":"62","model":"D1S","e":11.21,"y":5.27},{"panel":"R","nuc":"62","model":"D1S","e":11.46,"y":5.32},{"panel":"R","nuc":"62","model":"D1S","e":11.71,"y":5.26},{"panel":"R","nuc":"62","model":"D1S","e":11.96,"y":5.17},{"panel":"R","nuc":"62","model":"D1S","e":12.46,"y":5.07},{"panel":"R","nuc":"62","model":"D1S","e":13.5,"y":5.03},{"panel":"R","nuc":"62","model":"D1S","e":16,"y":5.02},{"panel":"R","nuc":"62","model":"D1S","e":19,"y":5.02},
{"panel":"R","nuc":"64","model":"NoPair","e":0,"y":0.02},{"panel":"R","nuc":"64","model":"NoPair","e":2.78,"y":0.07},{"panel":"R","nuc":"64","model":"NoPair","e":3.78,"y":0.16},{"panel":"R","nuc":"64","model":"NoPair","e":4.28,"y":0.26},{"panel":"R","nuc":"64","model":"NoPair","e":4.78,"y":0.52},{"panel":"R","nuc":"64","model":"NoPair","e":5.03,"y":0.81},{"panel":"R","nuc":"64","model":"NoPair","e":5.28,"y":1.31},{"panel":"R","nuc":"64","model":"NoPair","e":5.53,"y":2.1},{"panel":"R","nuc":"64","model":"NoPair","e":5.78,"y":2.63},{"panel":"R","nuc":"64","model":"NoPair","e":6.03,"y":2.11},{"panel":"R","nuc":"64","model":"NoPair","e":6.28,"y":1.33},{"panel":"R","nuc":"64","model":"NoPair","e":6.53,"y":0.84},{"panel":"R","nuc":"64","model":"NoPair","e":6.78,"y":0.55},{"panel":"R","nuc":"64","model":"NoPair","e":7.28,"y":0.35},{"panel":"R","nuc":"64","model":"NoPair","e":7.78,"y":0.32},{"panel":"R","nuc":"64","model":"NoPair","e":8.18,"y":0.42},{"panel":"R","nuc":"64","model":"NoPair","e":8.43,"y":0.61},{"panel":"R","nuc":"64","model":"NoPair","e":8.68,"y":0.91},{"panel":"R","nuc":"64","model":"NoPair","e":8.93,"y":1.1},{"panel":"R","nuc":"64","model":"NoPair","e":9.18,"y":0.89},{"panel":"R","nuc":"64","model":"NoPair","e":9.43,"y":0.57},{"panel":"R","nuc":"64","model":"NoPair","e":9.68,"y":0.37},{"panel":"R","nuc":"64","model":"NoPair","e":9.93,"y":0.25},{"panel":"R","nuc":"64","model":"NoPair","e":10.43,"y":0.14},{"panel":"R","nuc":"64","model":"NoPair","e":11,"y":0.06},{"panel":"R","nuc":"64","model":"NoPair","e":12,"y":0.04},{"panel":"R","nuc":"64","model":"NoPair","e":14,"y":0.03},{"panel":"R","nuc":"64","model":"NoPair","e":16,"y":0.03},{"panel":"R","nuc":"64","model":"NoPair","e":17.5,"y":0.08},{"panel":"R","nuc":"64","model":"NoPair","e":18.3,"y":0.15},{"panel":"R","nuc":"64","model":"NoPair","e":19,"y":0.1},
{"panel":"R","nuc":"64","model":"D1S","e":0,"y":0.01},{"panel":"R","nuc":"64","model":"D1S","e":4,"y":0.03},{"panel":"R","nuc":"64","model":"D1S","e":4.94,"y":0.04},{"panel":"R","nuc":"64","model":"D1S","e":5.94,"y":0.09},{"panel":"R","nuc":"64","model":"D1S","e":6.44,"y":0.16},{"panel":"R","nuc":"64","model":"D1S","e":6.94,"y":0.33},{"panel":"R","nuc":"64","model":"D1S","e":7.19,"y":0.52},{"panel":"R","nuc":"64","model":"D1S","e":7.44,"y":0.89},{"panel":"R","nuc":"64","model":"D1S","e":7.69,"y":1.51},{"panel":"R","nuc":"64","model":"D1S","e":7.94,"y":1.99},{"panel":"R","nuc":"64","model":"D1S","e":8.19,"y":1.52},{"panel":"R","nuc":"64","model":"D1S","e":8.44,"y":0.9},{"panel":"R","nuc":"64","model":"D1S","e":8.69,"y":0.55},{"panel":"R","nuc":"64","model":"D1S","e":8.94,"y":0.36},{"panel":"R","nuc":"64","model":"D1S","e":9.44,"y":0.21},{"panel":"R","nuc":"64","model":"D1S","e":9.94,"y":0.19},{"panel":"R","nuc":"64","model":"D1S","e":10.57,"y":0.33},{"panel":"R","nuc":"64","model":"D1S","e":10.82,"y":0.48},{"panel":"R","nuc":"64","model":"D1S","e":11.07,"y":0.58},{"panel":"R","nuc":"64","model":"D1S","e":11.32,"y":0.47},{"panel":"R","nuc":"64","model":"D1S","e":11.57,"y":0.31},{"panel":"R","nuc":"64","model":"D1S","e":12.07,"y":0.14},{"panel":"R","nuc":"64","model":"D1S","e":13,"y":0.04},{"panel":"R","nuc":"64","model":"D1S","e":16,"y":0.02},{"panel":"R","nuc":"64","model":"D1S","e":19,"y":0.02}
]
},
"config":{
"view":{"stroke":null},
"axis":{"grid":false,"domainColor":"black","domainWidth":3,"tickColor":"black","tickWidth":1.2,"tickSize":-12,"labelFont":"Liberation Mono","labelFontSize":40,"labelColor":"black","labelFlush":false,"titleFont":"Liberation Mono","titleFontSize":40,"titleFontWeight":"normal","titleColor":"black","zindex":1},
"text":{"color":"black"}
},
"hconcat":[
{
"width":434,"height":897,
"resolve":{"axis":{"x":"independent","y":"independent"}},
"layer":[
{"data":{"name":"curves"},"transform":[{"filter":"datum.panel==='L' && datum.model==='D1S'"}],
"mark":{"type":"line","color":"#9400D3","strokeWidth":4,"interpolate":"monotone","clip":true},
"encoding":{
"x":{"field":"e","type":"quantitative","scale":{"domain":[0,18.94],"nice":false,"zero":false},"axis":{"orient":"bottom","values":[0,4,8,12,16],"labelPadding":38,"labelOffset":13,"title":"E\u1d67\u00a0\u00a0\u00a0[MeV]","titlePadding":18,"titleX":204}},
"y":{"field":"y","type":"quantitative","scale":{"domain":[-0.62,46],"nice":false,"zero":false},"axis":{"orient":"left","values":[0,5,10,15,20,25,30,35,40,45],"labelPadding":37,"title":"dB\u2098\u2081(E\u1d67)/dE\u1d67\u00a0\u00a0\u00a0[\u03bc\u00b2\u2099/MeV]","titleFontSize":46,"titlePadding":45,"titleY":472}},
"detail":{"field":"nuc"}}},
{"data":{"name":"curves"},"transform":[{"filter":"datum.panel==='L' && datum.model==='NoPair'"}],
"mark":{"type":"line","color":"#FF0000","strokeWidth":4,"strokeDash":[10,8],"interpolate":"monotone","clip":true},
"encoding":{
"x":{"field":"e","type":"quantitative","axis":{"orient":"top","values":[0,4,8,12,16],"labels":false,"title":null}},
"y":{"field":"y","type":"quantitative","axis":{"orient":"right","values":[0,5,10,15,20,25,30,35,40,45],"labels":false,"title":null}},
"detail":{"field":"nuc"}}},
{"data":{"name":"labels"},"transform":[{"filter":"datum.panel==='L'"}],
"mark":{"type":"text","font":"DejaVu Sans Mono","fontSize":31,"align":"left","baseline":"alphabetic","dy":-40},
"encoding":{"x":{"datum":12.04,"axis":null},"y":{"field":"base","type":"quantitative","axis":null},"text":{"field":"iso"}}},
{"data":{"name":"labels"},"transform":[{"filter":"datum.panel==='L'"}],
"mark":{"type":"text","text":"Ca","font":"DejaVu Sans Mono","fontSize":40,"align":"left","baseline":"alphabetic","dy":-20},
"encoding":{"x":{"datum":13.7,"axis":null},"y":{"field":"base","type":"quantitative","axis":null}}},
{"data":{"name":"legend"},"transform":[{"filter":"datum.model==='D1S Pair.'"}],
"mark":{"type":"text","font":"Liberation Mono","fontSize":43,"align":"right","baseline":"alphabetic"},
"encoding":{"x":{"datum":10.38,"axis":null},"y":{"datum":43.3,"axis":null},"text":{"field":"model"}}},
{"data":{"name":"legend"},"transform":[{"filter":"datum.model==='No Pair.'"}],
"mark":{"type":"text","font":"Liberation Mono","fontSize":43,"align":"right","baseline":"alphabetic"},
"encoding":{"x":{"datum":10.38,"axis":null},"y":{"datum":40.96,"axis":null},"text":{"field":"model"}}},
{"data":{"name":"legend"},"transform":[{"filter":"datum.model==='D1S Pair.'"}],
"mark":{"type":"rule","color":"#9400D3","strokeWidth":4},
"encoding":{"x":{"datum":11.56,"axis":null},"x2":{"datum":16.71},"y":{"datum":44.07,"axis":null}}},
{"data":{"name":"legend"},"transform":[{"filter":"datum.model==='No Pair.'"}],
"mark":{"type":"rule","color":"#FF0000","strokeWidth":4,"strokeDash":[10,8]},
"encoding":{"x":{"datum":11.56,"axis":null},"x2":{"datum":16.49},"y":{"datum":41.56,"axis":null}}}
]
},
{
"width":432,"height":897,
"resolve":{"axis":{"x":"independent","y":"independent"}},
"layer":[
{"data":{"name":"curves"},"transform":[{"filter":"datum.panel==='R' && datum.model==='D1S'"}],
"mark":{"type":"line","color":"#9400D3","strokeWidth":4,"interpolate":"monotone","clip":true},
"encoding":{
"x":{"field":"e","type":"quantitative","scale":{"domain":[0,18.78],"nice":false,"zero":false},"axis":{"orient":"bottom","values":[0,4,8,12,16],"labelPadding":38,"labelOffset":13,"title":"E\u1d67\u00a0\u00a0\u00a0[MeV]","titlePadding":18,"titleX":205}},
"y":{"field":"y","type":"quantitative","scale":{"domain":[-0.62,46],"nice":false,"zero":false},"axis":{"orient":"left","values":[0,5,10,15,20,25,30,35,40,45],"labels":false,"title":null}},
"detail":{"field":"nuc"}}},
{"data":{"name":"curves"},"transform":[{"filter":"datum.panel==='R' && datum.model==='NoPair'"}],
"mark":{"type":"line","color":"#FF0000","strokeWidth":4,"strokeDash":[10,8],"interpolate":"monotone","clip":true},
"encoding":{
"x":{"field":"e","type":"quantitative","axis":{"orient":"top","values":[0,4,8,12,16],"labels":false,"title":null}},
"y":{"field":"y","type":"quantitative","axis":{"orient":"right","values":[0,5,10,15,20,25,30,35,40,45],"labels":false,"domain":false,"title":null}},
"detail":{"field":"nuc"}}},
{"data":{"name":"labels"},"transform":[{"filter":"datum.panel==='R'"}],
"mark":{"type":"text","font":"DejaVu Sans Mono","fontSize":31,"align":"left","baseline":"alphabetic","dy":-40},
"encoding":{"x":{"datum":12.03,"axis":null},"y":{"field":"base","type":"quantitative","axis":null},"text":{"field":"iso"}}},
{"data":{"name":"labels"},"transform":[{"filter":"datum.panel==='R'"}],
"mark":{"type":"text","text":"Ca","font":"DejaVu Sans Mono","fontSize":40,"align":"left","baseline":"alphabetic","dy":-20},
"encoding":{"x":{"datum":13.73,"axis":null},"y":{"field":"base","type":"quantitative","axis":null}}}
]
}
],
"spacing":14,
"bounds":"flush"
}
